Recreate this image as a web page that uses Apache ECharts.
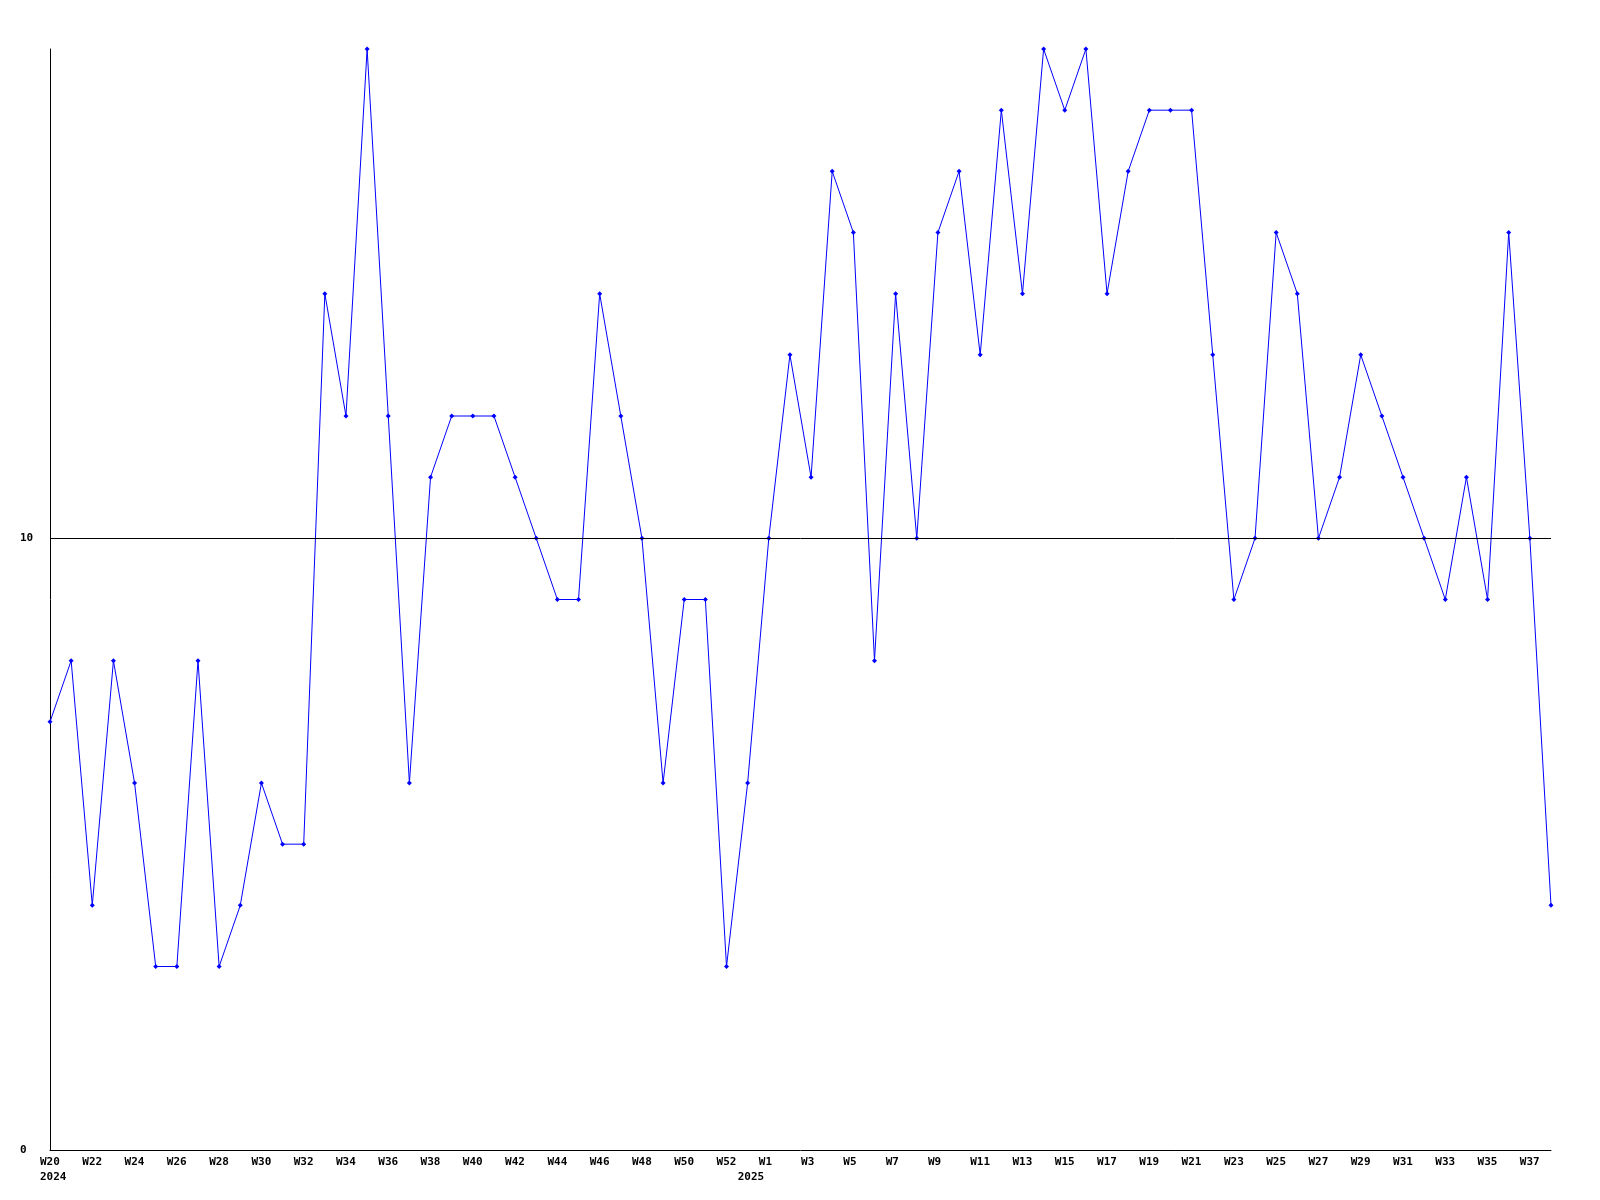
<!DOCTYPE html>
<html>
<head>
<meta charset="utf-8">
<script src="https://cdn.jsdelivr.net/npm/echarts@6/dist/echarts.min.js"></script>
<style>
html,body{margin:0;padding:0;background:#fff;}
#chart{width:1600px;height:1200px;}
</style>
</head>
<body>
<div id="chart"></div>
<script>
// Week categories (2024 W20 .. 2025 W38); one extra week at the year turn
const weeks = [
  'W20','W21','W22','W23','W24','W25','W26','W27','W28','W29','W30','W31','W32','W33','W34','W35','W36','W37','W38','W39',
  'W40','W41','W42','W43','W44','W45','W46','W47','W48','W49','W50','W51','W52','W53',
  'W1','W2','W3','W4','W5','W6','W7','W8','W9','W10','W11','W12','W13','W14','W15','W16','W17','W18','W19',
  'W20','W21','W22','W23','W24','W25','W26','W27','W28','W29','W30','W31','W32','W33','W34','W35','W36','W37','W38'
];
const values = [
  7, 8, 4, 8, 6, 3, 3, 8, 3, 4, 6, 5, 5, 14, 12, 18, 12, 6, 11, 12,
  12, 12, 11, 10, 9, 9, 14, 12, 10, 6, 9, 9, 3, 6,
  10, 13, 11, 16, 15, 8, 14, 10, 15, 16, 13, 17, 14, 18, 17, 18, 14, 16, 17,
  17, 17, 13, 9, 10, 15, 14, 10, 11, 13, 12, 11, 10, 9, 11, 9, 15, 10, 4
];
const years = ['2024', '2025'];
const yearStarts = [0, 33];
const refLine = 10;
const yMax = 18;
const yTickStep = 10;

const chart = echarts.init(document.getElementById('chart'), null, {renderer: 'canvas'});
const font = {fontFamily: 'DejaVu Sans Mono', fontWeight: 'bold', fontSize: 11, color: '#000'};
chart.setOption({
  animation: false,
  backgroundColor: '#fff',
  grid: {left: 50, right: 49, top: 49, bottom: 50, containLabel: false},
  xAxis: {
    type: 'category',
    boundaryGap: false,
    data: weeks,
    axisLine: {show: true, lineStyle: {color: '#000', width: 1}},
    axisTick: {show: false},
    splitLine: {show: false},
    axisLabel: Object.assign({}, font, {
      interval: (i) => i % 2 === 0 || yearStarts.includes(i),
      formatter: (v, i) => {
        const top = i % 2 === 0 ? v : '';
        const yi = yearStarts.indexOf(i);
        return yi >= 0 ? top + '\n' + years[yi] : top;
      },
      align: 'left',
      padding: [0, 0, 0, -10],
      lineHeight: 15,
      margin: 5
    })
  },
  yAxis: {
    type: 'value',
    min: 0,
    max: yMax,
    interval: yTickStep,
    axisLine: {show: true, lineStyle: {color: '#000', width: 1}},
    axisTick: {show: false},
    splitLine: {show: false},
    axisLabel: Object.assign({}, font, {
      showMaxLabel: false,
      align: 'left',
      margin: 30
    })
  },
  series: [{
    type: 'line',
    data: values,
    symbol: 'diamond',
    symbolSize: 5,
    showSymbol: true,
    lineStyle: {color: '#0000ff', width: 1},
    itemStyle: {color: '#0000ff'},
    markLine: {
      silent: true,
      symbol: ['none', 'none'],
      label: {show: false},
      lineStyle: {color: '#000', width: 1, type: 'solid'},
      data: [{yAxis: refLine}]
    }
  }]
});
</script>
</body>
</html>
